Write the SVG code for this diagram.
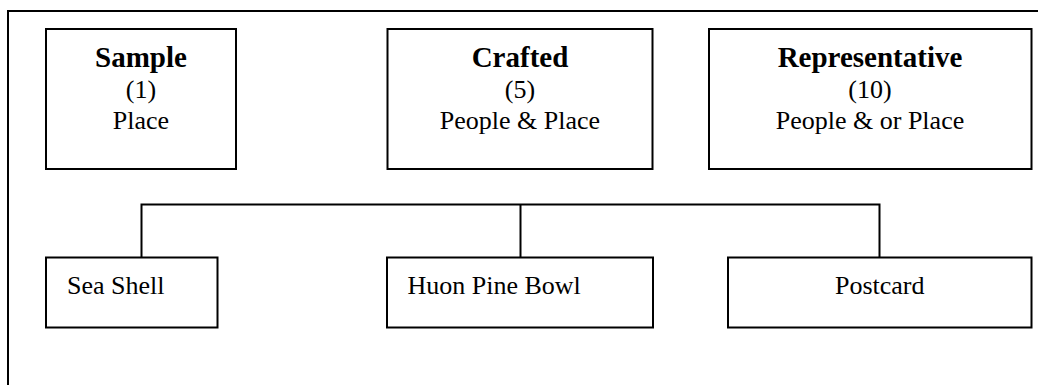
<svg xmlns="http://www.w3.org/2000/svg" width="1038" height="385" viewBox="0 0 1038 385">
  <style>
    .box { fill: #ffffff; stroke: #000000; stroke-width: 2; }
    .frame { fill: none; stroke: #000000; stroke-width: 2; }
    .wire { fill: none; stroke: #000000; stroke-width: 2; }
    text { font-family: "Liberation Serif", "Times New Roman", serif; fill: #000000; }
    .title { font-size: 29px; font-weight: bold; text-anchor: middle; }
    .sub { font-size: 26px; text-anchor: middle; }
    .item { font-size: 26px; }
  </style>
  <rect width="1038" height="385" fill="#ffffff"/>

  <!-- page frame (top and left edges) -->
  <path class="frame" d="M1038,11 H8 V385"/>

  <!-- connectors -->
  <g id="connectors">
    <path class="wire" d="M141.5,257.5 V204.5 H879.5 V257.5"/>
    <path class="wire" d="M520.5,204.5 V257.5"/>
  </g>

  <!-- category nodes -->
  <g id="node-sample">
    <rect class="box" x="46" y="29" width="190" height="140"/>
    <text class="title" x="141" y="67">Sample</text>
    <text class="sub" x="141" y="97.5">(1)</text>
    <text class="sub" x="141" y="128.5">Place</text>
  </g>
  <g id="node-crafted">
    <rect class="box" x="387.5" y="29" width="265" height="140"/>
    <text class="title" x="520" y="67">Crafted</text>
    <text class="sub" x="520" y="97.5">(5)</text>
    <text class="sub" x="520" y="128.5">People &amp; Place</text>
  </g>
  <g id="node-representative">
    <rect class="box" x="709" y="29" width="322.5" height="140"/>
    <text class="title" x="870" y="67">Representative</text>
    <text class="sub" x="870" y="97.5">(10)</text>
    <text class="sub" x="870" y="128.5">People &amp; or Place</text>
  </g>

  <!-- example nodes -->
  <g id="node-sea-shell">
    <rect class="box" x="46" y="257.5" width="171.5" height="70"/>
    <text class="item" x="67" y="293.5">Sea Shell</text>
  </g>
  <g id="node-huon-pine-bowl">
    <rect class="box" x="387" y="257.5" width="266" height="70"/>
    <text class="item" x="407.5" y="293.5">Huon Pine Bowl</text>
  </g>
  <g id="node-postcard">
    <rect class="box" x="728" y="257.5" width="303.5" height="70"/>
    <text class="item" x="879.7" y="293.5" text-anchor="middle">Postcard</text>
  </g>
</svg>
